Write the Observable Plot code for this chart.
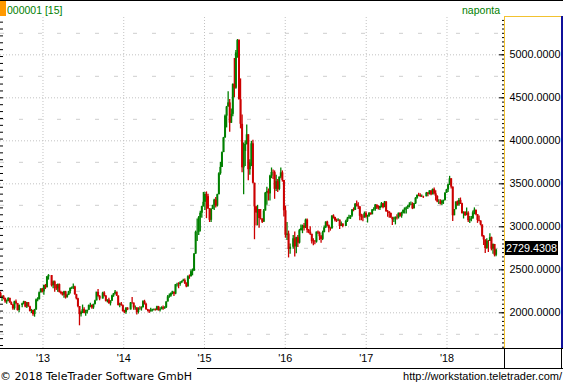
<!DOCTYPE html>
<html><head><meta charset="utf-8">
<script src="https://cdn.jsdelivr.net/npm/d3@7"></script>
<script src="https://cdn.jsdelivr.net/npm/@observablehq/plot@0.6"></script>
<style>
html,body{margin:0;padding:0;background:#fff;}
#frame{position:relative;width:563px;height:385px;overflow:hidden;background:#fff;}
#chart{position:absolute;left:0;top:17px;}
.abs{position:absolute;}
#last{position:absolute;left:505px;width:53px;height:14px;background:#000;color:#fff;font:10.8px 'Liberation Sans',Arial,sans-serif;line-height:14px;padding-left:1px;box-sizing:border-box;white-space:nowrap;}
</style></head><body>
<div id="frame">
  <div id="chart"></div>
  <svg id="deco" class="abs" style="left:0;top:0" width="563" height="385">
    <rect x="0" y="0" width="563" height="1" fill="#000"/>
    <rect x="0" y="1" width="6" height="15" fill="#ff9900"/>
    <text x="7" y="13.5" fill="#008000" font-family="'Liberation Sans',Arial,sans-serif" font-size="10.5">000001 [15]</text>
    <text x="500" y="13.5" fill="#008000" text-anchor="end" font-family="'Liberation Sans',Arial,sans-serif" font-size="10.5">naponta</text>
    <rect x="504" y="16" width="57" height="1" fill="#f2c230"/>
    <rect x="504" y="16" width="1" height="332" fill="#f2c230"/>
    <rect x="561" y="16" width="2" height="332" fill="#10109a"/>
    <rect x="0" y="348" width="563" height="1" fill="#000"/>
    <rect x="504" y="348" width="1" height="20" fill="#000"/>
    <rect x="561" y="348" width="1" height="20" fill="#000"/>
    <rect x="197" y="368" width="366" height="1" fill="#000"/>
    <text x="0" y="380" fill="#000" font-family="'DejaVu Sans',Verdana,sans-serif" font-size="11">© 2018 TeleTrader Software GmbH</text>
    <text x="562" y="380" fill="#000" text-anchor="end" font-family="'Liberation Sans',Arial,sans-serif" font-size="11">http://workstation.teletrader.com/</text>
  </svg>
  <div id="last"></div>
</div>
<script>
// Weekly candles: [close, high, low]; null = no trading that week
const firstOpen = 2225;
const firstMonday = ["2012-07-02","2013-01-07","2014-01-06","2015-01-05","2016-01-04","2017-01-02","2018-01-01"];
const w2012 = [
[2171,2243,2165],[2185,2197,2132],[2168,2200,2150],[2128,2160,2110],[2133,2150,2100],
[2168,2175,2130],[2115,2170,2110],[2092,2125,2085],[2047,2095,2030],
[2127,2135,2030],[2109,2150,2095],[2027,2105,2020],[2086,2090,2000],
null,[2104,2110,2060],[2128,2135,2095],[2067,2130,2060],[2117,2120,2050],
[2069,2120,2065],[2015,2075,2010],[2027,2040,1990],[1980,2030,1960],
[2033,2040,1949],[2150,2160,2030],[2153,2175,2130],[2233,2240,2150],[2276,2280,2230]];
const w2013 = [
[2243,2284,2230],[2317,2320,2204],[2291,2330,2270],[2419,2420,2290],
[2433,2444,2380],null,[2314,2430,2300],[2359,2370,2280],
[2318,2370,2240],[2278,2330,2260],[2328,2335,2240],[2237,2335,2230],
[2225,2250,2210],[2206,2240,2195],[2244,2250,2170],[2177,2250,2160],[2205,2215,2170],
[2246,2250,2200],[2283,2290,2220],[2288,2300,2270],[2301,2334,2270],
[2211,2310,2205],[2163,2215,2150],[2073,2170,2060],[1979,2070,1849],
[2007,2020,1950],[2039,2090,1990],[1992,2060,1990],[2010,2030,1960],[2029,2030,1985],
[2085,2090,2030],[2086,2110,2060],[2057,2090,2040],[2098,2100,2040],
[2139,2145,2090],[2236,2240,2150],[2191,2270,2180],[2160,2200,2140],null,
[2229,2240,2170],[2193,2245,2185],[2133,2200,2125],[2149,2150,2115],
[2106,2170,2100],[2135,2140,2080],[2197,2205,2135],[2220,2225,2180],
[2238,2260,2210],[2196,2240,2190],[2085,2195,2080],[2101,2110,2060],[2083,2120,2075]];
const w2014 = [
[2013,2090,2010],[2004,2030,1990],[2054,2060,1984],[2033,2060,2025],
null,[2115,2120,2040],[2113,2178,2100],[2056,2110,2030],
[2057,2080,2030],[2004,2060,1974],[2047,2060,1985],[2046,2070,2030],[2058,2070,2020],
[2130,2140,2060],[2098,2146,2090],[2036,2110,2030],[2026,2040,2010],
[2011,2035,1991],[2026,2054,2010],[2034,2040,2010],[2039,2045,2020],
[2030,2045,2020],[2070,2075,2025],[2025,2075,2020],[2036,2060,2010],[2059,2070,2040],
[2046,2080,2030],[2059,2070,2040],[2126,2130,2050],[2185,2200,2130],
[2194,2220,2170],[2226,2230,2180],[2240,2250,2210],[2217,2240,2190],
[2326,2330,2210],[2331,2345,2300],[2329,2350,2280],[2347,2360,2310],[2364,2370,2345],
[2374,2390,2360],[2341,2392,2330],[2302,2350,2290],[2420,2430,2300],
[2418,2440,2390],[2478,2500,2420],[2487,2510,2430],[2683,2690,2480],
[2937,2950,2680],[2938,3091,2830],[3108,3120,2900],[3158,3180,2940],[3235,3240,3100]];
const w2015 = [
[3285,3400,3230],[3376,3400,3190],[3351,3406,3095],[3210,3380,3200],
[3076,3120,3050],[3203,3210,3050],[3247,3250,3200],[3310,3320,3190],
[3241,3340,3220],[3373,3380,3230],[3617,3630,3380],[3691,3750,3600],[3863,3870,3700],
[4034,4040,3880],[4287,4300,4030],[4393,4400,4150],[4441,4572,4420],
[4205,4480,4100],[4308,4370,4200],[4657,4660,4280],[4611,4958,4500],
[5023,5050,4600],[5166,5178,4960],[4478,5176,4476],[4192,4720,4139],[3686,4300,3629],
[3877,3975,3373],[3957,4000,3700],[4070,4184,3950],[3664,4000,3537],
[3744,3780,3600],[3965,3994,3700],[3507,4006,3500],[3232,3300,2850],[3160,3240,3010],
[3200,3250,3011],[3097,3200,2983],[3092,3200,3080],[3053,3090,3040],
[3183,3200,3090],[3391,3400,3200],[3412,3460,3250],[3383,3440,3300],
[3590,3600,3300],[3632,3684,3560],[3630,3660,3550],[3436,3650,3320],[3525,3600,3410],
[3435,3550,3400],[3578,3580,3420],[3627,3684,3560],[3539,3650,3520]];
const w2016 = [
[3186,3540,3115],[2901,3240,2867],[2916,3050,2840],[2737,2950,2638],
[2763,2800,2682],null,[2861,2900,2740],[2767,2940,2650],[2874,2880,2688],
[2810,2900,2760],[2955,2970,2800],[2979,3020,2950],[3009,3020,2920],
[2985,3040,2950],[3078,3090,2980],[2959,3090,2925],[2938,2970,2920],
[2913,3000,2900],[2827,2900,2800],[2825,2860,2780],[2822,2840,2790],[2938,2940,2810],
[2927,2950,2910],[2885,2940,2840],[2854,2900,2810],[2932,2950,2840],
[2988,3010,2930],[3054,3060,2980],[3012,3065,3000],[2979,3020,2930],
[2976,2990,2950],[3125,3130,2980],[3108,3140,3090],[3070,3110,3055],[3067,3090,3050],
[3078,3095,3065],[3003,3070,2970],[3033,3055,3010],[3005,3025,2990],
null,[3064,3075,3020],[3091,3110,3050],[3105,3135,3090],[3125,3130,3085],
[3196,3200,3110],[3192,3220,3175],[3262,3270,3190],[3243,3301,3230],
[3232,3280,3200],[3122,3210,3070],[3110,3145,3070],[3104,3140,3060]];
const w2017 = [
[3154,3172,3100],[3113,3175,3100],[3123,3135,3044],[3159,3165,3110],[3140,3160,3135],
[3196,3200,3140],[3202,3222,3180],[3253,3260,3180],[3218,3250,3200],
[3212,3245,3195],[3237,3240,3190],[3269,3283,3220],[3223,3270,3210],
[3287,3295,3230],[3175,3295,3170],[3173,3190,3110],[3155,3175,3100],
[3103,3160,3100],[3083,3110,3016],[3091,3110,3050],[3110,3115,3022],[3105,3140,3080],
[3158,3160,3090],[3123,3160,3110],[3157,3170,3100],[3192,3195,3150],
[3217,3220,3150],[3222,3230,3150],[3238,3250,3200],[3253,3280,3220],[3262,3290,3250],
[3209,3280,3200],[3268,3270,3210],[3332,3340,3260],[3366,3370,3320],
[3365,3390,3350],[3353,3385,3340],[3353,3370,3340],[3349,3355,3330],
null,[3391,3400,3370],[3378,3400,3350],[3417,3420,3370],[3372,3420,3360],
[3433,3440,3380],[3383,3450,3370],[3353,3420,3300],[3289,3360,3280],
[3289,3315,3260],[3266,3315,3255],[3297,3310,3245],[3307,3310,3260]];
const w2018 = [
[3391,3395,3300],[3429,3435,3390],[3488,3495,3400],[3558,3587,3480],[3462,3540,3440],
[3129,3460,3062],[3199,3200,3130],[3289,3290,3220],[3254,3300,3240],
[3307,3330,3240],[3269,3335,3260],[3153,3275,3150],[3168,3175,3091],
[3131,3175,3120],[3159,3220,3130],[3071,3175,3050],[3082,3120,3040],[3091,3120,3060],
[3163,3185,3090],[3193,3220,3140],[3141,3190,3130],[3075,3140,3040],
[3067,3125,3060],[3022,3070,3010],[2889,3000,2880],[2847,2900,2782],
[2747,2850,2691],[2831,2860,2740],[2829,2840,2700],[2873,2920,2830],[2740,2880,2720],
[2795,2800,2680],[2669,2790,2650],[2729.4308,2740,2653]];
const weekly = [w2012, w2013, w2014, w2015, w2016, w2017, w2018];

const yTicks = [2000, 2500, 3000, 3500, 4000, 4500, 5000];
const yHalf = [1750, 2250, 2750, 3250, 3750, 4250, 4750, 5250];
const yearTicks = [2013, 2014, 2015, 2016, 2017, 2018];
const yDomain = [1585, 5434];
const xDomain = ["2012-06-23", "2018-09-18"];

const GREEN = "#008000", RED = "#cc0000";

// build candles
const candles = [];
let prev = firstOpen;
weekly.forEach((arr, k) => {
  const start = new Date(firstMonday[k] + "T00:00:00Z");
  arr.forEach((w, i) => {
    if (!w) return;
    const [close, high, low] = w;
    const open = prev;
    candles.push({
      date: d3.utcDay.offset(start, 7 * i),
      open, close,
      high: Math.max(high, open, close),
      low: Math.min(low, open, close),
      up: close >= open
    });
    prev = close;
  });
});
const ups = candles.filter(d => d.up), downs = candles.filter(d => !d.up);
const yearDates = yearTicks.map(y => new Date(Date.UTC(y, 0, 1)));
const minorRight = d3.range(1600, yDomain[1], 50);
const leftTicks = d3.range(1620, yDomain[1], 80);
const fmt = d3.format(".4f");
const shift = -2;

const plot = Plot.plot({
  width: 563, height: 351,
  marginLeft: 0, marginRight: 59, marginTop: 0, marginBottom: 20,
  style: {fontFamily: "'Liberation Sans', Arial, sans-serif", fontSize: "10.8px", background: "transparent", overflow: "visible"},
  x: {type: "utc", domain: xDomain.map(s => new Date(s + "T00:00:00Z"))},
  y: {domain: yDomain},
  marks: [
    Plot.ruleY(yHalf, {stroke: "#cfcfcf", strokeDasharray: "4,15"}),
    Plot.ruleY(yTicks, {stroke: "#c2c2c2", strokeDasharray: "1,2"}),
    Plot.ruleX(yearDates, {stroke: "#c2c2c2", strokeDasharray: "1,2"}),
    Plot.ruleX(ups, {x: "date", y1: "low", y2: "high", stroke: GREEN, strokeWidth: 1.3, dx: shift}),
    Plot.ruleX(downs, {x: "date", y1: "low", y2: "high", stroke: RED, strokeWidth: 1.3, dx: shift}),
    Plot.ruleX(ups, {x: "date", y1: "open", y2: "close", stroke: GREEN, strokeWidth: 2, dx: shift}),
    Plot.ruleX(downs, {x: "date", y1: "open", y2: "close", stroke: RED, strokeWidth: 2, dx: shift}),
    Plot.tickY(leftTicks, {stroke: "#000", insetRight: 501}),
    Plot.tickY(minorRight, {stroke: "#000", insetLeft: 502}),
    Plot.tickY(yTicks, {stroke: "#000", insetLeft: 499}),
    Plot.axisY({anchor: "right", ticks: yTicks, tickSize: 0, tickPadding: 5, tickFormat: fmt, label: null}),
    Plot.axisX({ticks: yearDates, tickSize: 0, tickPadding: 6, tickFormat: d => "'" + d3.utcFormat("%y")(d), label: null})
  ]
});
document.getElementById("chart").appendChild(plot);

const last = candles[candles.length - 1];
const yPos = plot.scale("y").apply(last.close);
const lastDiv = document.getElementById("last");
lastDiv.textContent = fmt(last.close);
lastDiv.style.top = Math.round(17 + yPos - 9) + "px";
</script>
</body></html>
